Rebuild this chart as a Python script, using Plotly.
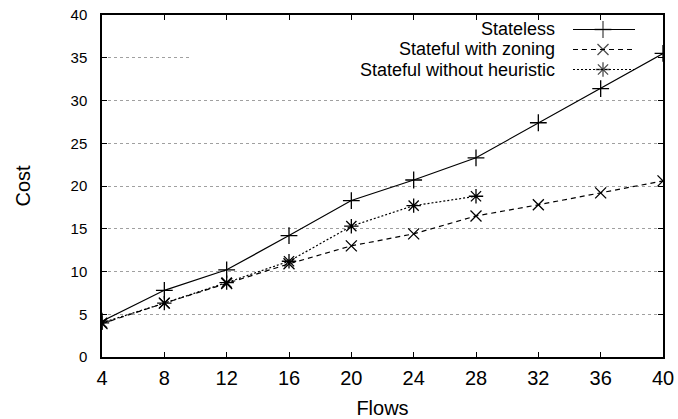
import plotly.graph_objects as go

flows = [4, 8, 12, 16, 20, 24, 28, 32, 36, 40]
stateless = [4.2, 7.8, 10.2, 14.2, 18.3, 20.7, 23.3, 27.4, 31.4, 35.5]
stateful_zoning = [3.9, 6.3, 8.6, 10.9, 13.0, 14.4, 16.5, 17.8, 19.2, 20.6]
flows_heuristic = [4, 8, 12, 16, 20, 24, 28]
stateful_no_heuristic = [4.0, 6.3, 8.7, 11.2, 15.3, 17.7, 18.8]

series_names = ["Stateless", "Stateful with zoning", "Stateful without heuristic"]
x_ticks = [4, 8, 12, 16, 20, 24, 28, 32, 36, 40]
y_ticks = [0, 5, 10, 15, 20, 25, 30, 35, 40]

W, H = 678, 419
L, R, T, B = 102, 15, 15, 62
pw, ph = W - L - R, H - T - B
XR = [4, 40]
YR = [0, 40]

def px(xp):
    return (xp - L) / pw

def py(yp):
    return (H - B - yp) / ph

def dx(xp):
    return XR[0] + px(xp) * (XR[1] - XR[0])

def dy(yp):
    return YR[0] + py(yp) * (YR[1] - YR[0])

styles = [
    dict(dash="solid", symbol="cross-thin-open", size=12),
    dict(dash="5px,4px", symbol="x-thin-open", size=11),
    dict(dash="2px,2px", symbol="asterisk-open", size=12),
]
data = [(flows, stateless), (flows, stateful_zoning), (flows_heuristic, stateful_no_heuristic)]

fig = go.Figure()

# white key background (gnuplot key box) covering the grid under the legend
bx0, bx1, by0, by1 = dx(192), XR[1], dy(82), YR[1]
fig.add_trace(go.Scatter(
    x=[bx0, bx1, bx1, bx0, bx0], y=[by0, by0, by1, by1, by0],
    mode="lines", fill="toself", fillcolor="white", line=dict(width=0),
    hoverinfo="skip", showlegend=False,
))

for (xs, ys), st, name in zip(data, styles, series_names):
    fig.add_trace(go.Scatter(
        x=xs, y=ys, mode="lines+markers", name=name, showlegend=False,
        line=dict(color="black", width=1.2, dash=st["dash"]),
        marker=dict(symbol=st["symbol"], size=st["size"], color="black",
                    line=dict(color="black", width=1.3)),
    ))

# custom gnuplot-style legend on an overlay axis
rows_px = [29.5, 49.5, 69.5]
for st, name, rp in zip(styles, series_names, rows_px):
    yy = py(rp)
    fig.add_trace(go.Scatter(
        x=[px(573), px(603), px(635)], y=[yy, yy, yy], xaxis="x2", yaxis="y2",
        mode="lines+markers", showlegend=False, hoverinfo="skip",
        line=dict(color="black", width=1.2, dash=st["dash"]),
        marker=dict(symbol=st["symbol"], size=[0, st["size"], 0], color="black",
                    line=dict(color="black", width=1.3)),
    ))
    fig.add_annotation(x=px(557), y=yy, xref="paper", yref="paper",
                       text=name, showarrow=False, xanchor="right", yanchor="middle",
                       font=dict(size=18, color="black"))

font_family = "Liberation Sans, Arial, sans-serif"
fig.update_layout(
    width=W, height=H,
    margin=dict(l=L, r=R, t=T, b=B, autoexpand=False),
    paper_bgcolor="white", plot_bgcolor="white",
    font=dict(family=font_family, color="black"),
    showlegend=False,
    xaxis=dict(
        range=XR, tickvals=x_ticks, ticks="inside", ticklen=5, tickwidth=1,
        tickcolor="black", showline=True, linecolor="black", linewidth=1.5,
        mirror="ticks", showgrid=False, zeroline=False, automargin=False,
        tickfont=dict(size=20, color="black"), ticklabelstandoff=2,
        title=dict(text="Flows", font=dict(size=20, color="black"), standoff=15),
    ),
    yaxis=dict(
        range=YR, tickvals=y_ticks, ticks="inside", ticklen=5, tickwidth=1,
        tickcolor="black", showline=True, linecolor="black", linewidth=1.5,
        mirror="ticks", showgrid=True, gridcolor="#a0a0a0", griddash="dot",
        gridwidth=1, zeroline=False, automargin=False,
        tickfont=dict(size=15, color="black"), ticklabelstandoff=10,
        title=dict(text="Cost", font=dict(size=20, color="black"), standoff=35),
    ),
    xaxis2=dict(range=[0, 1], overlaying="x", visible=False, fixedrange=True),
    yaxis2=dict(range=[0, 1], overlaying="y", visible=False, fixedrange=True),
)

fig.write_html("out.html", config={"displayModeBar": False},
               post_script="document.body.style.margin='0';")
